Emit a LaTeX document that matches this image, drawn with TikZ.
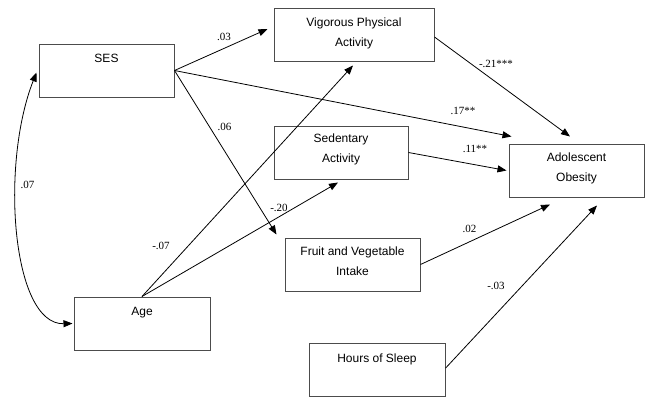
\documentclass[tikz,border=0pt]{standalone}
\usepackage{fontspec}
\setmainfont{Liberation Serif}
\newfontfamily\boxfont{Liberation Sans}
\usetikzlibrary{arrows.meta,calc}
\begin{document}
\begin{tikzpicture}[x=1pt,y=-1pt,
  boxnode/.style={draw=black!70,line width=1pt,rectangle,inner sep=0pt,minimum height=53pt},
  boxtext/.style={anchor=base,align=center,inner sep=0pt,font=\boxfont\fontsize{12}{20}\selectfont},
  coef/.style={inner sep=0pt,font=\fontsize{11}{13}\selectfont},
  path/.style={draw=black,line width=0.8pt,-{Triangle[length=9pt,width=7pt]}},
]
\useasboundingbox (0,0) rectangle (648,397);
% boxes
\node[boxnode,minimum width=135pt] (ses) at (106.5,70.5) {};
\node[boxnode,minimum width=160pt] (vig) at (354,34.5) {};
\node[boxnode,minimum width=134pt] (sed) at (341,152.5) {};
\node[boxnode,minimum width=135pt] (ob) at (576.5,170.5) {};
\node[boxnode,minimum width=135pt] (fruit) at (352.5,264.5) {};
\node[boxnode,minimum width=136pt] (age) at (142,323.5) {};
\node[boxnode,minimum width=136pt,minimum height=52.5pt] (sleep) at (377,370.2) {};
% box texts (base = baseline of last line)
\node[boxtext] (sesT) at ($(ses.north)+(0,19)$) {SES};
\node[boxtext] (vigT) at ($(vig.north)+(0,39)$) {Vigorous Physical\\Activity};
\node[boxtext] (sedT) at ($(sed.north)+(0,37)$) {Sedentary\\Activity};
\node[boxtext] (obT) at ($(ob.north)+(0,38)$) {Adolescent\\Obesity};
\node[boxtext] (fruitT) at ($(fruit.north)+(0,38)$) {Fruit and Vegetable\\Intake};
\node[boxtext] (ageT) at ($(age.north)+(0,19)$) {Age};
\node[boxtext] (sleepT) at ($(sleep.north)+(0,19)$) {Hours of Sleep};
% paths
\draw[path] (ses.east) -- ($(vig.west)+(-6,-5.5)$);
\draw[path] (ses.east) -- ($(ob.north west)+(3,-7)$);
\draw[path] (ses.east) -- ($(fruit.north west)+(-8,-3)$);
\draw[path] ($(vig.east)+(0,2.5)$) -- ($(ob.north)+(-6.5,-7)$);
\draw[path] (sed.east) -- ($(ob.west)+(-2,0)$);
\draw[path] (fruit.east) -- ($(ob.south)+(-26.5,7)$);
\draw[path] ($(sleep.east)+(0,-2)$) -- ($(ob.south)+(20.5,8)$);
\draw[path] (age.north) -- ($(vig.south)+(-1,4)$);
\draw[path] (age.north) -- ($(sed.south)+(-3,3)$);
\draw[line width=0.8pt,{Triangle[length=9pt,width=7pt]}-{Triangle[length=9pt,width=7pt]}]
  ($(ses.west)+(-2,2)$) .. controls (0,165) and (12,325) .. ($(age.west)+(-1,0)$);
% coefficients
\node[coef] (c1) at (224,37) {.03};
\node[coef] (c2) at (224.5,126.5) {.06};
\node[coef] (c3) at (27.5,184.5) {.07};
\node[coef] (c4) at (463,110.5) {.17**};
\node[coef] (c5) at (496,63.5) {-.21***};
\node[coef] (c6) at (475,148.5) {.11**};
\node[coef] (c7) at (279,208) {-.20};
\node[coef] (c8) at (161,246) {-.07};
\node[coef] (c9) at (469.5,228.5) {.02};
\node[coef] (c10) at (496,286) {-.03};
\end{tikzpicture}
\end{document}
